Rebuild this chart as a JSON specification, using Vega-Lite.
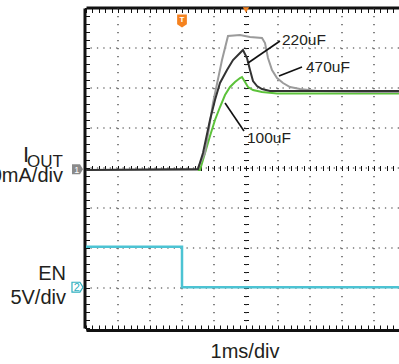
{
  "$schema": "https://vega.github.io/schema/vega-lite/v6.json",
  "width": 313,
  "height": 320,
  "autosize": {"type": "none"},
  "padding": {"left": 86, "top": 8, "right": 0, "bottom": 36},
  "background": "white",
  "config": {"view": {"stroke": null}, "text": {"font": "Liberation Sans", "color": "#231f20"}},
  "resolve": {"axis": {"x": "independent", "y": "independent"}},
  "datasets": {
    "iout": [
      {"cap": "100uF", "t": -5, "v": 3.95},
      {"cap": "100uF", "t": -1.4375, "v": 3.95},
      {"cap": "100uF", "t": -1.281, "v": 4.375},
      {"cap": "100uF", "t": -1.125, "v": 4.8},
      {"cap": "100uF", "t": -0.969, "v": 5.2},
      {"cap": "100uF", "t": -0.8125, "v": 5.525},
      {"cap": "100uF", "t": -0.656, "v": 5.825},
      {"cap": "100uF", "t": -0.5, "v": 6.025},
      {"cap": "100uF", "t": -0.344, "v": 6.15},
      {"cap": "100uF", "t": -0.1875, "v": 6.25},
      {"cap": "100uF", "t": -0.125, "v": 6.275},
      {"cap": "100uF", "t": -0.031, "v": 6.15},
      {"cap": "100uF", "t": 0.0625, "v": 6.025},
      {"cap": "100uF", "t": 0.219, "v": 5.95},
      {"cap": "100uF", "t": 0.5, "v": 5.9},
      {"cap": "100uF", "t": 0.97, "v": 5.86},
      {"cap": "100uF", "t": 4.78, "v": 5.86},
      {"cap": "470uF", "t": -5, "v": 3.95},
      {"cap": "470uF", "t": -1.531, "v": 3.95},
      {"cap": "470uF", "t": -1.281, "v": 4.375},
      {"cap": "470uF", "t": -1.031, "v": 5.625},
      {"cap": "470uF", "t": -0.75, "v": 6.7},
      {"cap": "470uF", "t": -0.5625, "v": 7.3},
      {"cap": "470uF", "t": -0.1875, "v": 7.325},
      {"cap": "470uF", "t": 0.125, "v": 7.275},
      {"cap": "470uF", "t": 0.5, "v": 7.25},
      {"cap": "470uF", "t": 0.594, "v": 7.125},
      {"cap": "470uF", "t": 0.6875, "v": 6.75},
      {"cap": "470uF", "t": 0.8125, "v": 6.45},
      {"cap": "470uF", "t": 0.969, "v": 6.25},
      {"cap": "470uF", "t": 1.156, "v": 6.125},
      {"cap": "470uF", "t": 1.375, "v": 6.025},
      {"cap": "470uF", "t": 1.6875, "v": 5.975},
      {"cap": "470uF", "t": 2.219, "v": 5.925},
      {"cap": "470uF", "t": 3.5625, "v": 5.9},
      {"cap": "470uF", "t": 4.78, "v": 5.9},
      {"cap": "220uF", "t": -5, "v": 3.95},
      {"cap": "220uF", "t": -1.5, "v": 3.975},
      {"cap": "220uF", "t": -1.344, "v": 4.375},
      {"cap": "220uF", "t": -1.125, "v": 5.2},
      {"cap": "220uF", "t": -0.969, "v": 5.7},
      {"cap": "220uF", "t": -0.8125, "v": 6.125},
      {"cap": "220uF", "t": -0.594, "v": 6.45},
      {"cap": "220uF", "t": -0.406, "v": 6.7},
      {"cap": "220uF", "t": -0.1875, "v": 6.875},
      {"cap": "220uF", "t": -0.094, "v": 6.95},
      {"cap": "220uF", "t": 0.031, "v": 6.75},
      {"cap": "220uF", "t": 0.125, "v": 6.45},
      {"cap": "220uF", "t": 0.219, "v": 6.175},
      {"cap": "220uF", "t": 0.344, "v": 6.05},
      {"cap": "220uF", "t": 0.5, "v": 5.975},
      {"cap": "220uF", "t": 0.75, "v": 5.925},
      {"cap": "220uF", "t": 4.78, "v": 5.925}
    ],
    "en": [
      {"i": 0, "t": -5, "v": 2.03},
      {"i": 1, "t": -2, "v": 2.03},
      {"i": 2, "t": -2, "v": 1.02},
      {"i": 3, "t": 4.78, "v": 1.02}
    ],
    "vgrid": [{"t": -4}, {"t": -3}, {"t": -2}, {"t": -1}, {"t": 0}, {"t": 1}, {"t": 2}, {"t": 3}, {"t": 4}],
    "hgrid": [{"v": 1}, {"v": 2}, {"v": 3}, {"v": 4}, {"v": 5}, {"v": 6}, {"v": 7}]
  },
  "layer": [
    {
      "data": {"name": "vgrid"},
      "mark": {"type": "rule", "color": "#333333", "strokeWidth": 1.2, "strokeDash": [1.3, 6.7]},
      "encoding": {
        "x": {"field": "t", "type": "quantitative", "scale": {"domain": [-5, 4.78125], "nice": false, "zero": false},
          "axis": {"orient": "bottom", "offset": 2, "domain": true, "domainWidth": 3, "domainColor": "#111111", "labels": false, "grid": false, "title": null, "tickSize": -5, "tickColor": "#111111", "tickWidth": 1,
            "values": [-5,-4.8,-4.6,-4.4,-4.2,-4,-3.8,-3.6,-3.4,-3.2,-3,-2.8,-2.6,-2.4,-2.2,-2,-1.8,-1.6,-1.4,-1.2,-1,-0.8,-0.6,-0.4,-0.2,0,0.2,0.4,0.6,0.8,1,1.2,1.4,1.6,1.8,2,2.2,2.4,2.6,2.8,3,3.2,3.4,3.6,3.8,4,4.2,4.4,4.6]}}
      }
    },
    {
      "data": {"name": "hgrid"},
      "mark": {"type": "rule", "color": "#333333", "strokeWidth": 1.2, "strokeDash": [1.3, 5.1]},
      "encoding": {
        "y": {"field": "v", "type": "quantitative", "scale": {"domain": [0, 8], "nice": false, "zero": false},
          "axis": {"orient": "left", "offset": 1.5, "domain": true, "domainWidth": 3, "domainColor": "#111111", "labels": false, "grid": false, "title": null, "tickSize": -5, "tickColor": "#111111", "tickWidth": 1,
            "values": [0,0.2,0.4,0.6,0.8,1,1.2,1.4,1.6,1.8,2,2.2,2.4,2.6,2.8,3,3.2,3.4,3.6,3.8,4,4.2,4.4,4.6,4.8,5,5.2,5.4,5.6,5.8,6,6.2,6.4,6.6,6.8,7,7.2,7.4,7.6,7.8,8]}}
      }
    },
    {
      "data": {"name": "iout"},
      "mark": {"type": "line", "strokeWidth": 2},
      "encoding": {
        "x": {"field": "t", "type": "quantitative", "scale": {"domain": [-5, 4.78125], "nice": false, "zero": false},
          "axis": {"orient": "top", "offset": 0.5, "domain": true, "domainWidth": 3, "domainColor": "#111111", "labels": false, "grid": false, "title": null, "tickSize": -5, "tickColor": "#111111", "tickWidth": 1,
            "values": [-5,-4.8,-4.6,-4.4,-4.2,-4,-3.8,-3.6,-3.4,-3.2,-3,-2.8,-2.6,-2.4,-2.2,-2,-1.8,-1.6,-1.4,-1.2,-1,-0.8,-0.6,-0.4,-0.2,0,0.2,0.4,0.6,0.8,1,1.2,1.4,1.6,1.8,2,2.2,2.4,2.6,2.8,3,3.2,3.4,3.6,3.8,4,4.2,4.4,4.6]}},
        "y": {"field": "v", "type": "quantitative", "scale": {"domain": [0, 8], "nice": false, "zero": false},
          "axis": {"orient": "left", "offset": -162.5, "domain": false, "labels": false, "grid": false, "title": null, "tickSize": 5, "tickColor": "#111111", "tickWidth": 1,
            "values": [0.2,0.4,0.6,0.8,1,1.2,1.4,1.6,1.8,2,2.2,2.4,2.6,2.8,3,3.2,3.4,3.6,3.8,4,4.2,4.4,4.6,4.8,5,5.2,5.4,5.6,5.8,6,6.2,6.4,6.6,6.8,7,7.2,7.4,7.6,7.8]}},
        "color": {"field": "cap", "type": "nominal", "legend": null,
          "scale": {"domain": ["100uF", "470uF", "220uF"], "range": ["#5cc23a", "#9b9b9b", "#333333"]}}
      }
    },
    {
      "data": {"name": "en"},
      "mark": {"type": "line", "strokeWidth": 2.5, "color": "#4cc3d3"},
      "encoding": {
        "x": {"field": "t", "type": "quantitative", "scale": {"domain": [-5, 4.78125], "nice": false, "zero": false},
          "axis": {"orient": "bottom", "offset": -162.5, "domain": false, "labels": false, "grid": false, "title": null, "tickSize": 5, "tickColor": "#111111", "tickWidth": 1,
            "values": [-4.8,-4.6,-4.4,-4.2,-4,-3.8,-3.6,-3.4,-3.2,-3,-2.8,-2.6,-2.4,-2.2,-2,-1.8,-1.6,-1.4,-1.2,-1,-0.8,-0.6,-0.4,-0.2,0,0.2,0.4,0.6,0.8,1,1.2,1.4,1.6,1.8,2,2.2,2.4,2.6,2.8,3,3.2,3.4,3.6,3.8,4,4.2,4.4,4.6]}},
        "y": {"field": "v", "type": "quantitative", "scale": {"domain": [0, 8], "nice": false, "zero": false}, "axis": null},
        "order": {"field": "i", "type": "quantitative"}
      }
    },
    {
      "data": {"values": [
        {"t1": 1.0625, "v1": 7.175, "t2": 0.0625, "v2": 6.625},
        {"t1": 1.75, "v1": 6.525, "t2": 1.03, "v2": 6.3},
        {"t1": -0.656, "v1": 5.625, "t2": -0.0625, "v2": 4.925}
      ]},
      "mark": {"type": "rule", "color": "#111111", "strokeWidth": 1.6},
      "encoding": {
        "x": {"field": "t1", "type": "quantitative", "scale": {"domain": [-5, 4.78125], "nice": false, "zero": false}, "axis": null},
        "y": {"field": "v1", "type": "quantitative", "scale": {"domain": [0, 8], "nice": false, "zero": false}, "axis": null},
        "x2": {"field": "t2"},
        "y2": {"field": "v2"}
      }
    },
    {
      "data": {"values": [
        {"label": "220uF", "t": 1.125, "v": 7.075},
        {"label": "470uF", "t": 1.875, "v": 6.4},
        {"label": "100uF", "t": 0.031, "v": 4.625}
      ]},
      "mark": {"type": "text", "fontSize": 15.5, "align": "left", "baseline": "alphabetic"},
      "encoding": {
        "x": {"field": "t", "type": "quantitative", "scale": {"domain": [-5, 4.78125], "nice": false, "zero": false}, "axis": null},
        "y": {"field": "v", "type": "quantitative", "scale": {"domain": [0, 8], "nice": false, "zero": false}, "axis": null},
        "text": {"field": "label"}
      }
    },
    {
      "data": {"values": [
        {"label": "EN", "t": -5.625, "v": 1.2},
        {"label": "5V/div", "t": -5.625, "v": 0.6},
        {"label": "200mA/div", "t": -5.72, "v": 3.65}
      ]},
      "mark": {"type": "text", "fontSize": 20, "align": "right", "baseline": "alphabetic"},
      "encoding": {
        "x": {"field": "t", "type": "quantitative", "scale": {"domain": [-5, 4.78125], "nice": false, "zero": false}, "axis": null},
        "y": {"field": "v", "type": "quantitative", "scale": {"domain": [0, 8], "nice": false, "zero": false}, "axis": null},
        "text": {"field": "label"}
      }
    },
    {
      "data": {"values": [{"label": "I", "t": -6.78, "v": 4.15}]},
      "mark": {"type": "text", "fontSize": 22, "align": "right", "baseline": "alphabetic"},
      "encoding": {
        "x": {"field": "t", "type": "quantitative", "scale": {"domain": [-5, 4.78125], "nice": false, "zero": false}, "axis": null},
        "y": {"field": "v", "type": "quantitative", "scale": {"domain": [0, 8], "nice": false, "zero": false}, "axis": null},
        "text": {"field": "label"}
      }
    },
    {
      "data": {"values": [{"label": "OUT", "t": -5.72, "v": 4.025}]},
      "mark": {"type": "text", "fontSize": 17, "align": "right", "baseline": "alphabetic"},
      "encoding": {
        "x": {"field": "t", "type": "quantitative", "scale": {"domain": [-5, 4.78125], "nice": false, "zero": false}, "axis": null},
        "y": {"field": "v", "type": "quantitative", "scale": {"domain": [0, 8], "nice": false, "zero": false}, "axis": null},
        "text": {"field": "label"}
      }
    },
    {
      "data": {"values": [{"label": "1ms/div", "t": -0.03, "v": -0.75}]},
      "mark": {"type": "text", "fontSize": 20, "align": "center", "baseline": "alphabetic"},
      "encoding": {
        "x": {"field": "t", "type": "quantitative", "scale": {"domain": [-5, 4.78125], "nice": false, "zero": false}, "axis": null},
        "y": {"field": "v", "type": "quantitative", "scale": {"domain": [0, 8], "nice": false, "zero": false}, "axis": null},
        "text": {"field": "label"}
      }
    },
    {
      "data": {"values": [{"ch": "1", "t": -5.266, "v": 3.97}]},
      "mark": {"type": "point", "filled": true, "size": 121, "opacity": 1, "color": "#8a8a8a", "shape": "M-1,-0.9L0.45,-0.9L1,0L0.45,0.9L-1,0.9Z"},
      "encoding": {
        "x": {"field": "t", "type": "quantitative", "scale": {"domain": [-5, 4.78125], "nice": false, "zero": false}, "axis": null},
        "y": {"field": "v", "type": "quantitative", "scale": {"domain": [0, 8], "nice": false, "zero": false}, "axis": null}
      }
    },
    {
      "data": {"values": [{"ch": "2", "t": -5.266, "v": 1.02}]},
      "mark": {"type": "point", "filled": false, "size": 121, "opacity": 1, "stroke": "#2fb0c0", "fill": "white", "strokeWidth": 1.2, "shape": "M-1,-0.9L0.45,-0.9L1,0L0.45,0.9L-1,0.9Z"},
      "encoding": {
        "x": {"field": "t", "type": "quantitative", "scale": {"domain": [-5, 4.78125], "nice": false, "zero": false}, "axis": null},
        "y": {"field": "v", "type": "quantitative", "scale": {"domain": [0, 8], "nice": false, "zero": false}, "axis": null}
      }
    },
    {
      "data": {"values": [{"ch": "1", "t": -5.29, "v": 3.96}]},
      "mark": {"type": "text", "fontSize": 9, "color": "white", "align": "center", "baseline": "middle"},
      "encoding": {
        "x": {"field": "t", "type": "quantitative", "scale": {"domain": [-5, 4.78125], "nice": false, "zero": false}, "axis": null},
        "y": {"field": "v", "type": "quantitative", "scale": {"domain": [0, 8], "nice": false, "zero": false}, "axis": null},
        "text": {"field": "ch"}
      }
    },
    {
      "data": {"values": [{"ch": "2", "t": -5.29, "v": 1.01}]},
      "mark": {"type": "text", "fontSize": 11, "color": "#2fb0c0", "align": "center", "baseline": "middle"},
      "encoding": {
        "x": {"field": "t", "type": "quantitative", "scale": {"domain": [-5, 4.78125], "nice": false, "zero": false}, "axis": null},
        "y": {"field": "v", "type": "quantitative", "scale": {"domain": [0, 8], "nice": false, "zero": false}, "axis": null},
        "text": {"field": "ch"}
      }
    },
    {
      "data": {"values": [{"ch": "T", "t": -2, "v": 7.675}]},
      "mark": {"type": "point", "filled": true, "size": 169, "opacity": 1, "color": "#f5821f", "shape": "M-0.75,-1L0.75,-1L0.75,0.5L0,1L-0.75,0.5Z"},
      "encoding": {
        "x": {"field": "t", "type": "quantitative", "scale": {"domain": [-5, 4.78125], "nice": false, "zero": false}, "axis": null},
        "y": {"field": "v", "type": "quantitative", "scale": {"domain": [0, 8], "nice": false, "zero": false}, "axis": null}
      }
    },
    {
      "data": {"values": [{"ch": "T", "t": -2, "v": 7.7}]},
      "mark": {"type": "text", "fontSize": 8, "fontWeight": "bold", "color": "white", "align": "center", "baseline": "middle"},
      "encoding": {
        "x": {"field": "t", "type": "quantitative", "scale": {"domain": [-5, 4.78125], "nice": false, "zero": false}, "axis": null},
        "y": {"field": "v", "type": "quantitative", "scale": {"domain": [0, 8], "nice": false, "zero": false}, "axis": null},
        "text": {"field": "ch"}
      }
    },
    {
      "data": {"values": [{"ch": "trigger", "t": 0, "v": 7.95}]},
      "mark": {"type": "point", "filled": true, "size": 40, "opacity": 1, "color": "#f5821f", "shape": "triangle-down"},
      "encoding": {
        "x": {"field": "t", "type": "quantitative", "scale": {"domain": [-5, 4.78125], "nice": false, "zero": false}, "axis": null},
        "y": {"field": "v", "type": "quantitative", "scale": {"domain": [0, 8], "nice": false, "zero": false}, "axis": null}
      }
    }
  ]
}
